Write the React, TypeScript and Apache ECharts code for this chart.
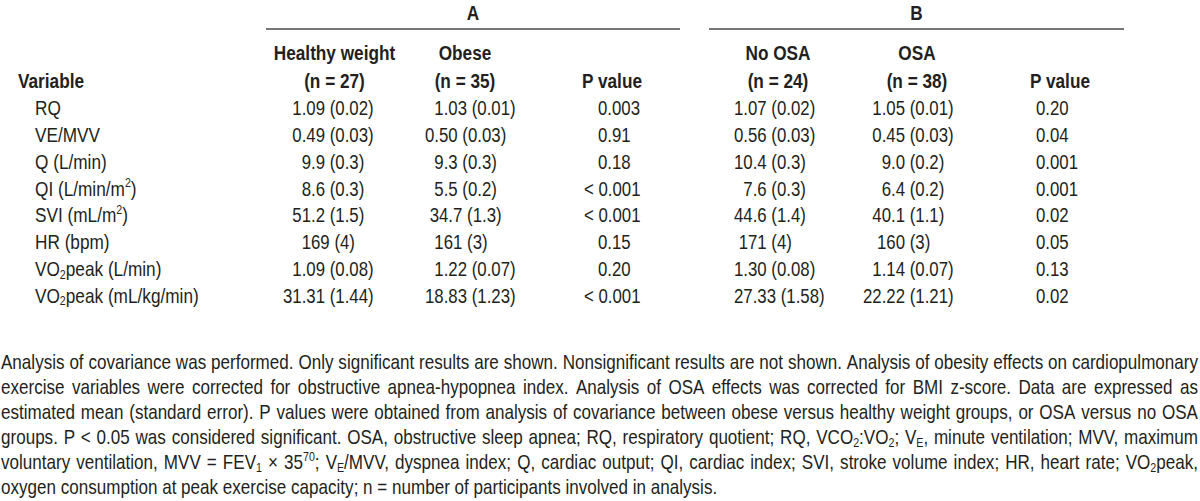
import React, { useEffect, useRef } from 'react';
import * as echarts from 'echarts';

// ---------- data ----------
const groupTitles = ['A', 'B'];
const columnTitles = ['Healthy weight', 'Obese', '', 'No OSA', 'OSA', ''];
const columnSubtitles = ['(n = 27)', '(n = 35)', 'P value', '(n = 24)', '(n = 38)', 'P value'];
const variableHeader = 'Variable';
const variables = [
  'RQ',
  'VE/MVV',
  'Q (L/min)',
  'QI (L/min/m^{2})',
  'SVI (mL/m^{2})',
  'HR (bpm)',
  'VO_{2}peak (L/min)',
  'VO_{2}peak (mL/kg/min)',
];
// figure space \u2007 and punctuation space \u2008 reproduce the original typesetting
const healthyWeight = [
  '\u20071.09 (0.02)',
  '\u20070.49 (0.03)',
  '\u2007\u20079.9 (0.3)',
  '\u2007\u20078.6 (0.3)',
  '\u200751.2 (1.5)',
  '\u2007\u2007169 (4)',
  '\u20071.09 (0.08)',
  '31.31 (1.44)',
];
const obese = [
  '\u20071.03 (0.01)',
  '0.50 (0.03)',
  '\u20079.3 (0.3)',
  '\u20075.5 (0.2)',
  '\u200834.7 (1.3)',
  '\u2007161 (3)',
  '\u20071.22 (0.07)',
  '18.83 (1.23)',
];
const pValueA = [
  '\u2007\u20080.003',
  '\u2007\u20080.91',
  '\u2007\u20080.18',
  '< 0.001',
  '< 0.001',
  '\u2007\u20080.15',
  '\u2007\u20080.20',
  '< 0.001',
];
const noOSA = [
  '1.07 (0.02)',
  '0.56 (0.03)',
  '10.4 (0.3)',
  '\u20077.6 (0.3)',
  '44.6 (1.4)',
  '\u2008171 (4)',
  '1.30 (0.08)',
  '27.33 (1.58)',
];
const osa = [
  '\u20071.05 (0.01)',
  '\u20070.45 (0.03)',
  '\u2007\u20079.0 (0.2)',
  '\u2007\u20076.4 (0.2)',
  '\u200740.1 (1.1)',
  '\u2007\u2008160 (3)',
  '\u20071.14 (0.07)',
  '22.22 (1.21)',
];
const pValueB = ['0.20', '0.04', '0.001', '0.001', '0.02', '0.05', '0.13', '0.02'];
const footnoteLines = [
  'Analysis of covariance was performed. Only significant results are shown. Nonsignificant results are not shown. Analysis of obesity effects on cardiopulmonary',
  'exercise variables were corrected for obstructive apnea-hypopnea index. Analysis of OSA effects was corrected for BMI z-score. Data are expressed as',
  'estimated mean (standard error). P values were obtained from analysis of covariance between obese versus healthy weight groups, or OSA versus no OSA',
  'groups. P < 0.05 was considered significant. OSA, obstructive sleep apnea; RQ, respiratory quotient; RQ, VCO_{2}:VO_{2}; V_{E}, minute ventilation; MVV, maximum',
  'voluntary ventilation, MVV = FEV_{1} × 35^{70}; V_{E}/MVV, dyspnea index; Q, cardiac output; QI, cardiac index; SVI, stroke volume index; HR, heart rate; VO_{2}peak,',
  'oxygen consumption at peak exercise capacity; n = number of participants involved in analysis.',
];

// ---------- layout / style ----------
const COLOR = '#231f20';
const LINE_COLOR = '#4a4a4a';
const DATA_SIZE = 20.5;
const LABEL_SIZE = 21;
const HEAD_SIZE = 21;
const NOTE_SIZE = 20.8;
const groupLines = [
  [266, 680],
  [709, 1124],
];
const headerCenters = [334.5, 465, 612, 778, 917, 1060];
const cellAnchors = [283, 425, 584, 734, 863, 1036];
const Y_GROUP = 13;
const Y_RULE = 29;
const Y_HEAD1 = 53;
const Y_HEAD2 = 81;
const Y_ROW0 = 108;
const ROW_STEP = 26.8;
const X_VARHEAD = 18;
const X_LABEL = 35;
const NOTE_LEFT = 1;
const NOTE_RIGHT = 1198;
const Y_NOTE0 = 362;
const NOTE_STEP = 25;

type Tok = { t: string; k: 'n' | 'sb' | 'sp' };
function parse(s: string): Tok[] {
  const out: Tok[] = [];
  const re = /(_\{[^}]*\}|\^\{[^}]*\})/g;
  let last = 0;
  let m: RegExpExecArray | null;
  while ((m = re.exec(s))) {
    if (m.index > last) out.push({ t: s.slice(last, m.index), k: 'n' });
    out.push({ t: m[0].slice(2, -1), k: m[0][0] === '_' ? 'sb' : 'sp' });
    last = m.index + m[0].length;
  }
  if (last < s.length) out.push({ t: s.slice(last), k: 'n' });
  return out;
}
const subSize = (size: number) => Math.round(size * 0.63);

export default function App() {
  const ref = useRef<HTMLDivElement>(null);
  useEffect(() => {
    const el = ref.current!;
    const ctx = document.createElement('canvas').getContext('2d')!;
    const probe = 'abcdefghijklmnopqrstuvwxyz0123456789';
    ctx.font = '40px monospace';
    const wMono = ctx.measureText(probe).width;
    ctx.font = "40px 'Liberation Sans Narrow', monospace";
    const wNarrow = ctx.measureText(probe).width;
    const hasNarrow = Math.abs(wMono - wNarrow) > 0.5;
    const FAM = hasNarrow ? "'Liberation Sans Narrow', 'Liberation Sans', Arial, sans-serif" : "'Liberation Sans', Arial, sans-serif";
    const SX = hasNarrow ? 1 : 0.82;

    const measure = (s: string, size: number, bold: boolean) =>
      parse(s).reduce((acc, tk) => {
        const fs = tk.k === 'n' ? size : subSize(size);
        ctx.font = `${bold ? 'bold ' : ''}${fs}px ${FAM}`;
        return acc + ctx.measureText(tk.t).width;
      }, 0) * SX;

    const makeText = (x: number, y: number, s: string, size: number, bold: boolean, align: 'left' | 'center' | 'right') => {
      const toks = parse(s);
      const w = bold ? 'bold' : 'normal';
      const ss = subSize(size);
      const rich: any = {
        n: { fontSize: size, fontFamily: FAM, fontWeight: w, fill: COLOR, lineHeight: size + 3, verticalAlign: 'middle' },
        sb: { fontSize: ss, fontFamily: FAM, fontWeight: w, fill: COLOR, lineHeight: ss, verticalAlign: 'bottom' },
        sp: { fontSize: ss, fontFamily: FAM, fontWeight: w, fill: COLOR, lineHeight: ss, verticalAlign: 'top' },
      };
      return {
        type: 'text',
        x,
        y,
        scaleX: SX,
        silent: true,
        style: {
          text: toks.map((tk) => `{${tk.k}|${tk.t}}`).join(''),
          x: 0,
          y: 0,
          fill: COLOR,
          fontSize: size,
          fontFamily: FAM,
          fontWeight: w,
          rich,
          align,
          textAlign: align,
          verticalAlign: 'middle',
          textVerticalAlign: 'middle',
        },
      };
    };

    const elements: any[] = [];
    groupTitles.forEach((g, i) => {
      const [a, b] = groupLines[i];
      elements.push(makeText((a + b) / 2, Y_GROUP, g, HEAD_SIZE, true, 'center'));
      elements.push({
        type: 'line',
        silent: true,
        shape: { x1: a, y1: Y_RULE, x2: b, y2: Y_RULE },
        style: { stroke: LINE_COLOR, lineWidth: 1.5 },
      });
    });
    columnTitles.forEach((t, i) => {
      if (t) elements.push(makeText(headerCenters[i], Y_HEAD1, t, HEAD_SIZE, true, 'center'));
      elements.push(makeText(headerCenters[i], Y_HEAD2, columnSubtitles[i], HEAD_SIZE, true, 'center'));
    });
    elements.push(makeText(X_VARHEAD, Y_HEAD2, variableHeader, HEAD_SIZE, true, 'left'));
    const cols = [healthyWeight, obese, pValueA, noOSA, osa, pValueB];
    variables.forEach((v, r) => {
      const y = Y_ROW0 + r * ROW_STEP;
      elements.push(makeText(X_LABEL, y, v, LABEL_SIZE, false, 'left'));
      cols.forEach((col, c) => {
        elements.push(makeText(cellAnchors[c], y, col[r], DATA_SIZE, false, 'left'));
      });
    });
    ctx.font = `${NOTE_SIZE}px ${FAM}`;
    const spaceW = ctx.measureText(' ').width * SX;
    footnoteLines.forEach((line, li) => {
      const y = Y_NOTE0 + li * NOTE_STEP;
      const words = line.split(' ');
      const widths = words.map((w) => measure(w, NOTE_SIZE, false));
      const total = widths.reduce((a, b) => a + b, 0);
      const isLast = li === footnoteLines.length - 1;
      const gap = isLast || words.length < 2 ? spaceW : Math.max(spaceW * 0.6, (NOTE_RIGHT - NOTE_LEFT - total) / (words.length - 1));
      let x = NOTE_LEFT;
      words.forEach((w, wi) => {
        elements.push(makeText(x, y, w, NOTE_SIZE, false, 'left'));
        x += widths[wi] + gap;
      });
    });

    const chart = echarts.init(el, null, { renderer: 'svg' });
    chart.setOption({ animation: false, graphic: { elements } });
    return () => chart.dispose();
  }, []);
  return <div ref={ref} style={{ position: 'absolute', left: 0, top: 0, width: 1200, height: 501, background: '#fff' }} />;
}
